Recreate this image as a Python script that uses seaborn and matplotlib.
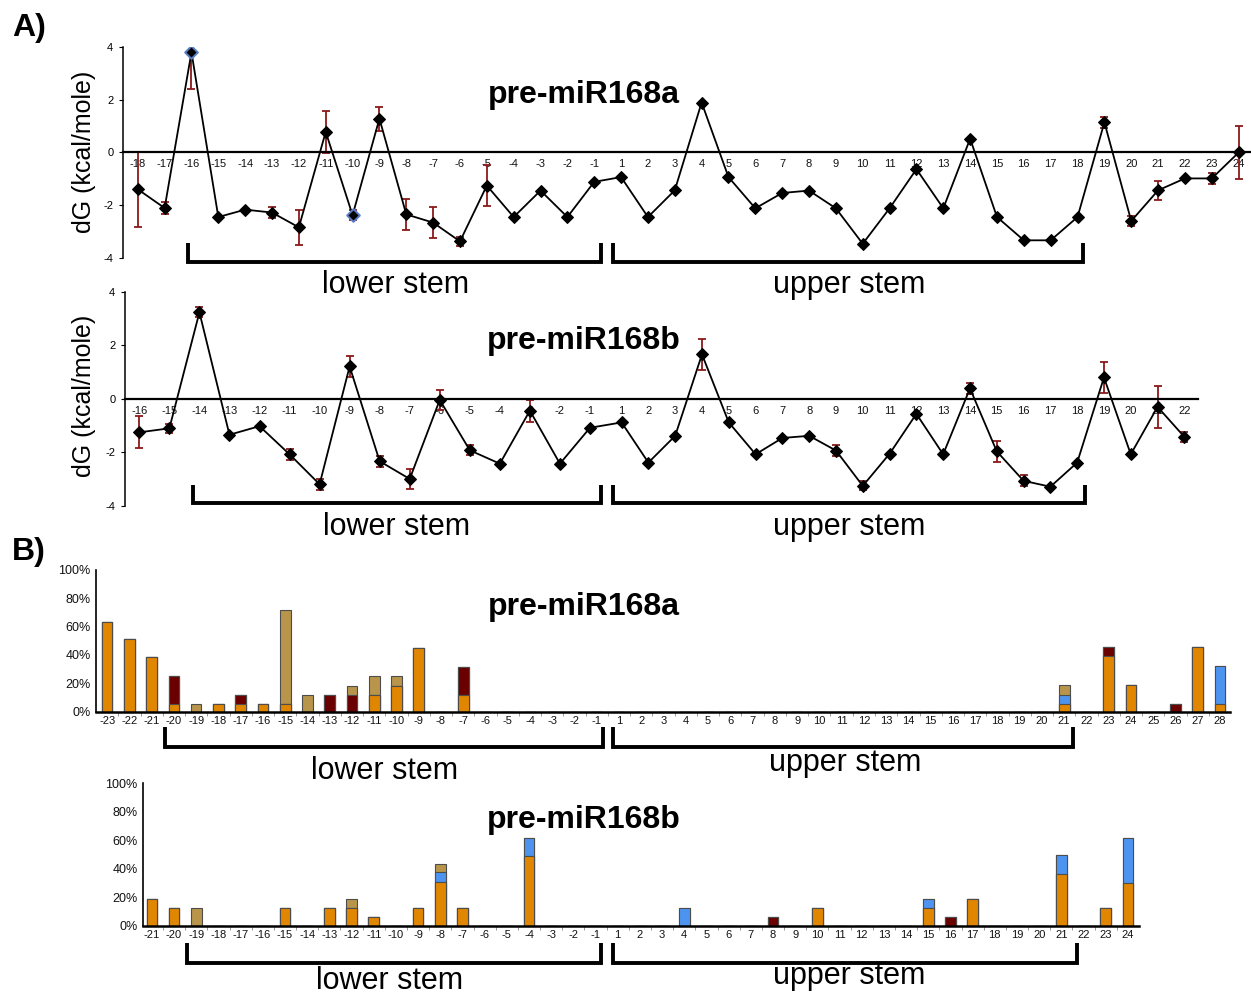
import numpy as np
import seaborn as sns
import matplotlib.pyplot as plt
from matplotlib.lines import Line2D

# ---------------- data ----------------
# A) dG per position (kcal/mole), pre-miR168a
a1_labels = [str(v) for v in range(-18, 0)] + [str(v) for v in range(1, 25)]
a1_dg = [-1.39, -2.10, 3.79, -2.44, -2.16, -2.27, -2.83, 0.78, -2.37, 1.28,
         -2.34, -2.65, -3.36, -1.25, -2.44, -1.44, -2.44, -1.11,
         -0.93, -2.44, -1.43, 1.89, -0.93, -2.11, -1.53, -1.44, -2.11, -3.45,
         -2.11, -0.63, -2.11, 0.52, -2.44, -3.32, -3.32, -2.44, 1.14, -2.59,
         -1.43, -0.98, -0.98, 0.0]
a1_err = [1.42, 0.23, 1.39, 0.05, 0.03, 0.2, 0.65, 0.8, 0.2, 0.45,
          0.6, 0.6, 0.17, 0.79, 0, 0, 0, 0,
          0, 0, 0, 0, 0, 0, 0, 0, 0, 0,
          0, 0, 0, 0, 0, 0, 0, 0, 0.2, 0.2,
          0.36, 0, 0.22, 1.0]
a1_blue = ['-16', '-10']

# A) pre-miR168b
a2_labels = [str(v) for v in range(-16, 0)] + [str(v) for v in range(1, 23)]
a2_dg = [-1.25, -1.10, 3.23, -1.34, -1.02, -2.07, -3.19, 1.21, -2.33, -2.99,
         -0.04, -1.92, -2.42, -0.44, -2.42, -1.08,
         -0.88, -2.38, -1.38, 1.66, -0.88, -2.07, -1.46, -1.38, -1.93, -3.25,
         -2.05, -0.56, -2.07, 0.39, -1.96, -3.06, -3.28, -2.38, 0.80, -2.07,
         -0.30, -1.42]
a2_err = [0.6, 0.17, 0.19, 0, 0, 0.2, 0.2, 0.39, 0.2, 0.37,
          0.38, 0.18, 0, 0.41, 0, 0,
          0, 0, 0, 0.57, 0, 0, 0, 0, 0.19, 0.17,
          0, 0, 0, 0.2, 0.39, 0.2, 0, 0, 0.59, 0,
          0.79, 0.2]

# B) stacked percentages, pre-miR168a  (-23..-1, 1..28)
b1_labels = [str(v) for v in range(-23, 0)] + [str(v) for v in range(1, 29)]
b1_orange = [63, 51.5, 38.5, 5, 0, 5, 5, 5, 5, 0, 0, 0, 11.5, 18, 45, 0, 11.5, 0, 0, 0, 0, 0, 0,
             0, 0, 0, 0, 0, 0, 0, 0, 0, 0, 0, 0, 0, 0, 0, 0, 0, 0, 0, 0,
             5.5, 0, 39, 19, 0, 0, 45.5, 5.5]
b1_darkred = [0, 0, 0, 20, 0, 0, 6.5, 0, 0, 0, 11.5, 11.5, 0, 0, 0, 0, 20, 0, 0, 0, 0, 0, 0,
              0, 0, 0, 0, 0, 0, 0, 0, 0, 0, 0, 0, 0, 0, 0, 0, 0, 0, 0, 0,
              0, 0, 6.5, 0, 0, 5.5, 0, 0]
b1_blue = [0, 0, 0, 0, 0, 0, 0, 0, 0, 0, 0, 0, 0, 0, 0, 0, 0, 0, 0, 0, 0, 0, 0,
           0, 0, 0, 0, 0, 0, 0, 0, 0, 0, 0, 0, 0, 0, 0, 0, 0, 0, 0, 0,
           6.5, 0, 0, 0, 0, 0, 0, 27]
b1_tan = [0, 0, 0, 0, 5, 0, 0, 0, 67, 11.5, 0, 6.5, 13.5, 7, 0, 0, 0, 0, 0, 0, 0, 0, 0,
          0, 0, 0, 0, 0, 0, 0, 0, 0, 0, 0, 0, 0, 0, 0, 0, 0, 0, 0, 0,
          7, 0, 0, 0, 0, 0, 0, 0]

# B) pre-miR168b  (-21..-1, 1..24)
b2_labels = [str(v) for v in range(-21, 0)] + [str(v) for v in range(1, 25)]
b2_orange = [18.8, 12, 0, 0, 0, 0, 12, 0, 12, 12, 6, 0, 12, 30.5, 12, 0, 0, 49, 0, 0, 0,
             0, 0, 0, 0, 0, 0, 0, 0, 0, 12, 0, 0, 0, 0, 12, 0, 18.6, 0, 0, 0,
             36.5, 0, 12, 30]
b2_darkred = [0, 0, 0, 0, 0, 0, 0, 0, 0, 0, 0, 0, 0, 0, 0, 0, 0, 0, 0, 0, 0,
              0, 0, 0, 0, 0, 0, 0, 6, 0, 0, 0, 0, 0, 0, 0, 6, 0, 0, 0, 0,
              0, 0, 0, 0]
b2_blue = [0, 0, 0, 0, 0, 0, 0, 0, 0, 0, 0, 0, 0, 7, 0, 0, 0, 12.5, 0, 0, 0,
           0, 0, 0, 12, 0, 0, 0, 0, 0, 0, 0, 0, 0, 0, 6.5, 0, 0, 0, 0, 0,
           13, 0, 0, 31.5]
b2_tan = [0, 0, 12, 0, 0, 0, 0, 0, 0, 6.5, 0, 0, 0, 5.5, 0, 0, 0, 0, 0, 0, 0,
          0, 0, 0, 0, 0, 0, 0, 0, 0, 0, 0, 0, 0, 0, 0, 0, 0, 0, 0, 0,
          0, 0, 0, 0]

# ---------------- styling ----------------
ORANGE, DARKRED, BLUE, TAN = '#E08600', '#6B0000', '#4D94F0', '#B8954A'
ERR_RED = '#8B1A1A'

sns.set_style('white')
plt.rcParams['font.family'] = ['Liberation Sans', 'DejaVu Sans']
plt.rcParams['axes.unicode_minus'] = False
plt.rcParams['text.color'] = 'black'
plt.rcParams['xtick.color'] = 'black'
plt.rcParams['ytick.color'] = 'black'

W, H = 1251, 996
fig = plt.figure(figsize=(W / 100, H / 100), dpi=100)


def px_rect(x0, y0, x1, y1):
    return [x0 / W, 1 - y1 / H, (x1 - x0) / W, (y1 - y0) / H]


def fx(x):
    return x / W


def fy(y):
    return 1 - y / H


def positions(labels, neg0, step):
    k = np.array([int(s) for s in labels])
    return np.where(k > 0, k, neg0 + (k + 1) * step).astype(float)


def dg_panel(rect, labels, dg, err, neg0, step, xlim, blue=()):
    ax = fig.add_axes(rect)
    x = positions(labels, neg0, step)
    dg = np.array(dg)
    ax.errorbar(x, dg, yerr=err, fmt='none', ecolor=ERR_RED, elinewidth=1.3,
                capsize=3.2, capthick=1.3, zorder=2)
    sns.lineplot(x=x, y=dg, ax=ax, color='black', linewidth=1.3, marker='D',
                 markersize=6.5, markeredgecolor='black', errorbar=None, zorder=3)
    if blue:
        idx = [labels.index(b) for b in blue]
        sns.scatterplot(x=x[idx], y=dg[idx], ax=ax, marker='D', s=42, color='black',
                        edgecolor='#5a7fc4', linewidth=1.4, zorder=4)
    ax.set_xlim(*xlim)
    ax.set_ylim(-4, 4)
    for s in ('top', 'right'):
        ax.spines[s].set_visible(False)
    ax.spines['bottom'].set_position(('data', 0))
    ax.spines['bottom'].set_linewidth(1.6)
    ax.spines['bottom'].set_color('black')
    ax.spines['left'].set_linewidth(1.1)
    ax.spines['left'].set_color('black')
    ax.set_xticks(x)
    ax.set_xticklabels(labels)
    ax.set_xticks((x[:-1] + x[1:]) / 2, minor=True)
    ax.tick_params(axis='x', which='major', length=0, pad=5, labelsize=8, labelcolor='#111')
    ax.tick_params(axis='x', which='minor', length=3, width=0.6, color='#888')
    ax.set_yticks([-4, -2, 0, 2, 4])
    ax.tick_params(axis='y', length=3, width=0.8, labelsize=8, pad=4, left=True)
    ax.set_xlabel('')
    ax.set_ylabel('')
    ax.patch.set_alpha(0)
    return ax


def bar_panel(rect, labels, orange, darkred, blue, tan, xlim):
    ax = fig.add_axes(rect)
    cum = np.cumsum(np.array([orange, darkred, blue, tan], dtype=float), axis=0)
    for level, color in reversed(list(zip(cum, [ORANGE, DARKRED, BLUE, TAN]))):
        sns.barplot(x=labels, y=level, order=labels, color=color, saturation=1,
                    width=0.48, edgecolor='#4d4d4d', linewidth=0.8, errorbar=None, ax=ax)
    ax.set_xlim(*xlim)
    ax.set_ylim(0, 100)
    for s in ('top', 'right'):
        ax.spines[s].set_visible(False)
    ax.spines['bottom'].set_linewidth(1.8)
    ax.spines['bottom'].set_color('black')
    ax.spines['left'].set_linewidth(1.2)
    ax.spines['left'].set_color('black')
    n = len(labels)
    ax.set_xticks(np.arange(n))
    ax.set_xticklabels(labels)
    ax.set_xticks(np.arange(n - 1) + 0.5, minor=True)
    ax.tick_params(axis='x', which='major', length=0, pad=3, labelsize=8, labelcolor='#111')
    ax.tick_params(axis='x', which='minor', bottom=True, length=3, width=0.6, color='#888')
    ax.set_yticks(range(0, 101, 20))
    ax.set_yticklabels([f'{v}%' for v in range(0, 101, 20)])
    ax.tick_params(axis='y', length=0, labelsize=9, pad=4, labelcolor='#111')
    ax.set_xlabel('')
    ax.set_ylabel('')
    ax.patch.set_alpha(0)
    return ax


def bracket(x0, x1, ytop, ybot):
    fig.add_artist(Line2D([fx(x0), fx(x0), fx(x1), fx(x1)],
                          [fy(ytop), fy(ybot), fy(ybot), fy(ytop)],
                          transform=fig.transFigure, color='black', lw=2.8,
                          solid_joinstyle='miter', solid_capstyle='butt'))


# ---------------- panels ----------------
dg_panel(px_rect(123, 46.7, 1251, 258.3), a1_labels, a1_dg, a1_err,
         0.0, 1.0, (-17.55, 24.46), blue=a1_blue)
dg_panel(px_rect(125, 291.7, 1197.5, 506), a2_labels, a2_dg, a2_err,
         -0.18, 1.121, (-17.53, 22.49))
bar_panel(px_rect(96, 570, 1230, 711.5), b1_labels, b1_orange, b1_darkred,
          b1_blue, b1_tan, (-0.5, 50.45))
bar_panel(px_rect(143, 783.3, 1139, 925.5), b2_labels, b2_orange, b2_darkred,
          b2_blue, b2_tan, (-0.4, 44.5))

# ---------------- annotations ----------------
for x0, x1, yt, yb in [(188, 601, 243, 262), (613, 1083, 243, 262),
                       (193, 601, 485, 503), (613, 1085, 485, 503),
                       (165, 603, 727, 747), (613, 1073, 727, 747),
                       (187, 601, 943, 963), (613, 1077, 943, 963)]:
    bracket(x0, x1, yt, yb)

for x, y, s in [(396, 293, 'lower stem'), (849, 293, 'upper stem'),
                (397, 535, 'lower stem'), (849, 535, 'upper stem'),
                (385, 779, 'lower stem'), (845, 771, 'upper stem'),
                (390, 989, 'lower stem'), (849, 984, 'upper stem')]:
    fig.text(fx(x), fy(y), s, ha='center', va='baseline', fontsize=22)

for x, y, s in [(584, 103, 'pre-miR168a'), (584, 349, 'pre-miR168b'),
                (584, 615, 'pre-miR168a'), (584, 828, 'pre-miR168b')]:
    fig.text(fx(x), fy(y), s, ha='center', va='baseline', fontsize=23, fontweight='bold')

for y in (152, 396):
    fig.text(fx(84), fy(y), 'dG (kcal/mole)', rotation=90, ha='center', va='center',
             fontsize=18)

fig.text(fx(12), fy(36), 'A)', ha='left', va='baseline', fontsize=23, fontweight='bold')
fig.text(fx(12), fy(560), 'B)', ha='left', va='baseline', fontsize=23, fontweight='bold')

fig.savefig('out.png', dpi=100)
